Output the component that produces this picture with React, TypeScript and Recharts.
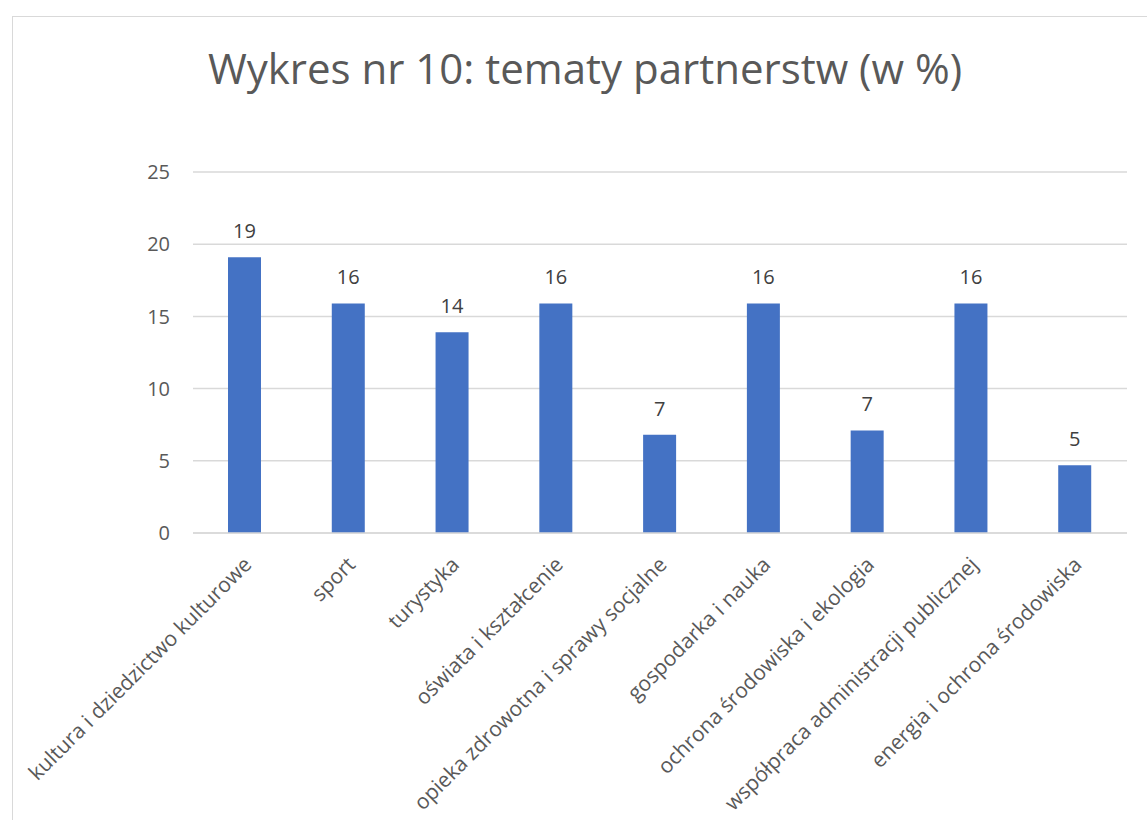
import { BarChart, Bar, XAxis, YAxis, CartesianGrid, LabelList } from 'recharts';

const topics = [
  'kultura i dziedzictwo kulturowe',
  'sport',
  'turystyka',
  'oświata i kształcenie',
  'opieka zdrowotna i sprawy socjalne',
  'gospodarka i nauka',
  'ochrona środowiska i ekologia',
  'współpraca administracji publicznej',
  'energia i ochrona środowiska',
];

const shares = [19.1, 15.9, 13.9, 15.9, 6.8, 15.9, 7.1, 15.9, 4.7];

const yTicks = [0, 5, 10, 15, 20, 25];

const data = topics.map((topic, i) => ({ topic, share: shares[i] }));

const FONT = '"Open Sans", "Noto Sans", sans-serif';

function SlantTick({ x, y, payload }: any) {
  return (
    <g transform={`translate(${x + 8},${y + 25})`}>
      <text
        textAnchor="end"
        transform="rotate(-45)"
        fill="#595959"
        fontSize={21}
        fontFamily={FONT}
      >
        {payload.value}
      </text>
    </g>
  );
}

export default function App() {
  return (
    <div style={{ position: 'absolute', left: 0, top: 0, width: 1147, height: 820, background: '#fff', overflow: 'hidden' }}>
      <div
        style={{
          position: 'absolute',
          left: 12,
          top: 16,
          width: 1200,
          height: 900,
          border: '1px solid #d9d9d9',
        }}
      />
      <div
        style={{
          position: 'absolute',
          left: 0,
          width: 1170,
          top: 39,
          textAlign: 'center',
          fontFamily: FONT,
          fontSize: 42,
          color: '#595959',
        }}
      >
        Wykres nr 10: tematy partnerstw (w %)
      </div>
      <div style={{ position: 'absolute', left: 0, top: 0 }}>
        <BarChart width={1147} height={820} data={data} margin={{ top: 172, right: 20, left: 0, bottom: 0 }}>
          <CartesianGrid vertical={false} stroke="#d9d9d9" strokeWidth={1.5} />
          <XAxis
            dataKey="topic"
            interval={0}
            height={287}
            axisLine={{ stroke: '#d9d9d9', strokeWidth: 1.5 }}
            tickLine={false}
            tick={<SlantTick />}
          />
          <YAxis
            width={193}
            domain={[0, 25]}
            ticks={yTicks}
            axisLine={false}
            tickLine={false}
            tickSize={0}
            tickMargin={23}
            tick={{ fill: '#595959', fontSize: 20, fontFamily: FONT }}
          />
          <Bar dataKey="share" fill="#4472c4" barSize={33} isAnimationActive={false}>
            <LabelList
              dataKey="share"
              position="top"
              offset={19}
              formatter={(v: any) => Math.round(Number(v))}
              fill="#404040"
              fontSize={20}
              fontFamily={FONT}
            />
          </Bar>
        </BarChart>
      </div>
    </div>
  );
}
